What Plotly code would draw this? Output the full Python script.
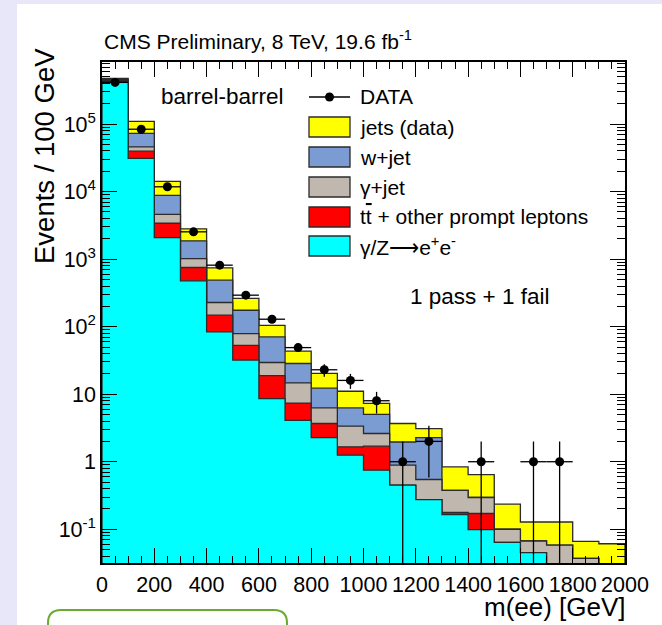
import numpy as np
import plotly.graph_objects as go

# Binning: 100 GeV bins from 0 to 2000 GeV
bin_edges = list(range(0, 2100, 100))

# Expected events per bin for each process (stack order: bottom -> top)
dy_ee = [424000, 31000, 2090, 477, 84, 32, 8.6, 4.1, 2.28, 1.25,
         0.75, 0.45, 0.275, 0.165, 0.099, 0.064, 0.045, 0, 0, 0]
ttbar_other = [10000, 8800, 1310, 276, 64, 20.7, 10.3, 3.3, 1.4, 0.41,
               0.95, 0, 0, 0.012, 0.072, 0, 0, 0, 0, 0]
gamma_jet = [6000, 6200, 1200, 267, 80, 26.4, 10.6, 7.3, 2.6, 1.7,
             0.92, 0.44, 0.27, 0.2, 0.124, 0.036, 0.022, 0.058, 0.037, 0]
w_jet = [20000, 27000, 4200, 850, 261, 96, 41, 13.8, 6.0, 2.9,
         2.4, 1.07, 1.73, 0, 0, 0, 0, 0, 0, 0]
jets_data = [15000, 37000, 5400, 940, 254, 87, 34, 14.9, 8.0, 4.8,
             2.3, 1.72, 0.82, 0.46, 0.35, 0.135, 0.061, 0.07, 0.029, 0.061]

# Observed event counts
data_counts = [415000, 84000, 11800, 2540, 815, 293, 129, 49, 23, 16,
               8, 1, 2, 0, 1, 0, 1, 1, 0, 0]

process_labels = ["γ/Z⟶e<sup>+</sup>e<sup>-</sup>",
                  "t<span style='text-decoration:overline'>t</span> + other prompt leptons",
                  "γ+jet", "w+jet", "jets (data)"]
process_colors = ["#00ffff", "#ff0000", "#c0b8ae", "#7b9bd3", "#ffff00"]
process_values = [dy_ee, ttbar_other, gamma_jet, w_jet, jets_data]

y_tick_vals = [0.1, 1, 10, 100, 1e3, 1e4, 1e5]
y_tick_text = ["10<sup>-1</sup>", "1", "10", "10<sup>2</sup>",
               "10<sup>3</sup>", "10<sup>4</sup>", "10<sup>5</sup>"]
x_tick_vals = list(range(0, 2001, 200))

FONT = "Liberation Sans, Arial, Helvetica, sans-serif"
OUTLINE = "#2b2b2b"
FLOOR = 1e-3  # below the visible log range

# figure / frame geometry in pixels
W, H = 662, 625
L, R, T, B = 102, 625, 62, 563


def px(xp):
    return (xp - L) / (R - L)


def py(yp):
    return (B - yp) / (B - T)


fig = go.Figure()

# Stacked histogram: draw cumulative totals from the top layer down
cum = np.cumsum(np.array(process_values, dtype=float), axis=0)
for k in reversed(range(len(process_values))):
    xs, ys = [bin_edges[0]], [FLOOR]
    for i in range(len(bin_edges) - 1):
        v = max(cum[k][i], FLOOR)
        xs += [bin_edges[i], bin_edges[i + 1]]
        ys += [v, v]
    xs.append(bin_edges[-1])
    ys.append(FLOOR)
    fig.add_trace(go.Scatter(
        x=xs, y=ys, mode="lines", fill="toself",
        fillcolor=process_colors[k],
        line=dict(color=OUTLINE, width=1.3),
        hoverinfo="skip", showlegend=False))

# Data points with Poisson errors
centers = [(bin_edges[i] + bin_edges[i + 1]) / 2 for i in range(len(data_counts))]
half_width = [(bin_edges[i + 1] - bin_edges[i]) / 2 for i in range(len(data_counts))]
data_y = [c if c > 0 else None for c in data_counts]
data_err = [np.sqrt(c) if c > 0 else None for c in data_counts]
fig.add_trace(go.Scatter(
    x=centers, y=data_y, mode="markers",
    marker=dict(color="black", size=9),
    error_y=dict(type="data", array=data_err, color="black", thickness=1.3, width=0),
    error_x=dict(type="data", array=half_width, color="black", thickness=1.3, width=0),
    showlegend=False))

shapes = []
annotations = []

# page background: white canvas with a lavender border strip
shapes.append(dict(type="rect", xref="paper", yref="paper", layer="below",
                   x0=px(17), x1=px(W + 5), y0=py(4), y1=py(H + 5),
                   fillcolor="white", line=dict(width=0)))

# green rounded box at the bottom of the page
gx0, gx1, gy0, gy1, r = 48, 287, 610, 660, 13
path = (f"M {px(gx0)},{py(gy1)} L {px(gx0)},{py(gy0 + r)} "
        f"Q {px(gx0)},{py(gy0)} {px(gx0 + r)},{py(gy0)} "
        f"L {px(gx1 - r)},{py(gy0)} Q {px(gx1)},{py(gy0)} {px(gx1)},{py(gy0 + r)} "
        f"L {px(gx1)},{py(gy1)}")
shapes.append(dict(type="path", xref="paper", yref="paper", path=path,
                   line=dict(color="#6aaa2e", width=2)))

# Legend
leg_x0, leg_x1, leg_text_x = 309, 350, 358
leg_rows = [97, 127, 157, 187, 217, 246]
shapes.append(dict(type="line", xref="paper", yref="paper",
                   x0=px(leg_x0), x1=px(leg_x1), y0=py(leg_rows[0]), y1=py(leg_rows[0]),
                   line=dict(color="black", width=1.3)))
shapes.append(dict(type="circle", xref="paper", yref="paper",
                   x0=px(329.5 - 4.5), x1=px(329.5 + 4.5),
                   y0=py(leg_rows[0] + 4.5), y1=py(leg_rows[0] - 4.5),
                   fillcolor="black", line=dict(width=0)))
annotations.append(dict(text="DATA", x=px(leg_text_x), y=py(leg_rows[0]),
                        xanchor="left", yanchor="middle"))
for row, k in zip(leg_rows[1:], reversed(range(len(process_values)))):
    shapes.append(dict(type="rect", xref="paper", yref="paper",
                       x0=px(leg_x0), x1=px(leg_x1), y0=py(row + 10), y1=py(row - 10),
                       fillcolor=process_colors[k], line=dict(color=OUTLINE, width=1.3)))
    annotations.append(dict(text=process_labels[k], x=px(leg_text_x), y=py(row),
                            xanchor="left", yanchor="middle"))

annotations += [
    dict(text="CMS Preliminary, 8 TeV, 19.6 fb<sup>-1</sup>", x=px(102), y=py(40),
         xanchor="left", yanchor="middle", font=dict(size=21)),
    dict(text="barrel-barrel", x=px(159), y=py(97), xanchor="left", yanchor="middle",
         font=dict(size=22.5)),
    dict(text="1 pass + 1 fail", x=px(408), y=py(296), xanchor="left", yanchor="middle",
         font=dict(size=22.5)),
    dict(text="m(ee) [GeV]", x=px(628), y=py(607), xanchor="right", yanchor="middle",
         font=dict(size=26)),
    dict(text="Events / 100 GeV", x=px(44), y=py(46), xanchor="center", yanchor="top",
         textangle=-90, font=dict(size=27.5)),
]
for a in annotations:
    a.setdefault("xref", "paper")
    a.setdefault("yref", "paper")
    a.setdefault("showarrow", False)
    a.setdefault("font", dict(size=21))

minor_y = [m * 10.0 ** d for d in range(-2, 7) for m in range(2, 10)]

fig.update_layout(
    width=W, height=H,
    margin=dict(l=L, r=W - R, t=T, b=H - B),
    paper_bgcolor="#e7e7f9", plot_bgcolor="white",
    font=dict(family=FONT, color="black", size=21),
    showlegend=False,
    shapes=shapes, annotations=annotations,
    xaxis=dict(range=[0, 2000], tickmode="array", tickvals=x_tick_vals,
               ticks="inside", ticklen=15, tickwidth=1, tickcolor="black",
               showline=True, linecolor="black", linewidth=1.5, mirror="ticks",
               showgrid=False, zeroline=False, tickfont=dict(size=21.5),
               ticklabelstandoff=1,
               minor=dict(dtick=50, tick0=0, ticks="inside", ticklen=7,
                          tickcolor="black", tickwidth=1, showgrid=False)),
    yaxis=dict(type="log", range=[-1.5, 5.92], tickmode="array",
               tickvals=y_tick_vals, ticktext=y_tick_text,
               ticks="inside", ticklen=15, tickwidth=1, tickcolor="black",
               showline=True, linecolor="black", linewidth=1.5, mirror="ticks",
               showgrid=False, zeroline=False, tickfont=dict(size=21.5),
               minor=dict(tickmode="array", tickvals=minor_y, ticks="inside",
                          ticklen=8, tickcolor="black", tickwidth=1, showgrid=False)),
)

fig.write_html("out.html")
